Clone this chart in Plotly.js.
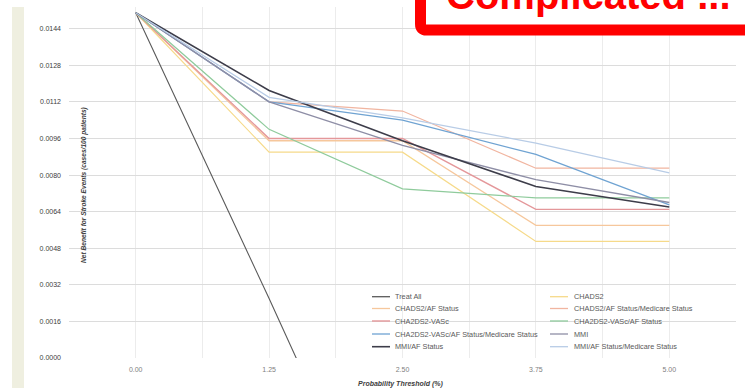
<!DOCTYPE html>
<html>
<head>
<meta charset="utf-8">
<script src="https://cdn.plot.ly/plotly-3.0.1.min.js"></script>
<style>html,body{margin:0;padding:0;background:#fff;}#chart{width:745px;height:388px;}</style>
</head>
<body>
<div id="chart"></div>
<script>
// ---- data ----
const thresholds = [0, 1.25, 2.5, 3.75, 5];
const xTickLabels = ['0.00', '1.25', '2.50', '3.75', '5.00'];
const yTickVals = [0, 0.0016, 0.0032, 0.0048, 0.0064, 0.0080, 0.0096, 0.0112, 0.0128, 0.0144];

const seriesNames = [
  'Treat All', 'CHADS2',
  'CHADS2/AF Status', 'CHADS2/AF Status/Medicare Status',
  'CHA2DS2-VASc', 'CHA2DS2-VASc/AF Status',
  'CHA2DS2-VASc/AF Status/Medicare Status', 'MMI',
  'MMI/AF Status', 'MMI/AF Status/Medicare Status'
];
const treatAll      = [0.0151, 0.0026, -0.0102, -0.0233, -0.0367];
const chads2        = [0.0151, 0.0090, 0.0090, 0.0051, 0.0051];
const chads2AF      = [0.0151, 0.0095, 0.0095, 0.0058, 0.0058];
const chads2AFMed   = [0.0151, 0.0112, 0.0108, 0.0083, 0.0083];
const cha2ds2       = [0.0151, 0.0096, 0.0096, 0.0065, 0.0065];
const cha2ds2AF     = [0.0151, 0.0100, 0.0074, 0.0070, 0.0070];
const cha2ds2AFMed  = [0.0151, 0.0112, 0.0104, 0.0089, 0.0067];
const mmi           = [0.0151, 0.0112, 0.0093, 0.0078, 0.0068];
const mmiAF         = [0.0151, 0.0117, 0.0095, 0.0075, 0.0066];
const mmiAFMed      = [0.0151, 0.0114, 0.0105, 0.0094, 0.0081];

const seriesValues = [treatAll, chads2, chads2AF, chads2AFMed, cha2ds2, cha2ds2AF, cha2ds2AFMed, mmi, mmiAF, mmiAFMed];

// ---- styles ----
const colors = ['#5a5a5a', '#f6da8a', '#f6c79c', '#f1b5a0', '#e4979a', '#8fcb9c', '#6fa3d2', '#8e8ea6', '#3d3d4a', '#b8cce6'];
const widths = [1.1, 1.2, 1.3, 1.2, 1.4, 1.2, 1.3, 1.3, 1.6, 1.3];

const W = 745, H = 388;
const M = {l: 69, r: 9, t: 7, b: 30};
const pw = W - M.l - M.r, ph = H - M.t - M.b;
const px = x => (x - M.l) / pw;
const py = y => (H - M.b - y) / ph;

const traces = seriesNames.map((n, i) => ({
  type: 'scatter', mode: 'lines', name: n,
  x: thresholds, y: seriesValues[i],
  line: {color: colors[i], width: widths[i]},
  showlegend: false, hoverinfo: 'skip'
}));

const shapes = [];
const annotations = [];

// beige strip at left
shapes.push({type: 'rect', xref: 'paper', yref: 'paper', layer: 'below',
  x0: px(12), x1: px(24), y0: py(H + 5), y1: py(7),
  fillcolor: '#efefe0', line: {width: 0}});

// manual legend
const rowsY = [296.7, 308.5, 321, 334, 346.7];
const colSampleX = [[372, 390], [550, 568]];
const colTextX = [393, 572];
seriesNames.forEach((n, i) => {
  const r = Math.floor(i / 2), c = i % 2;
  shapes.push({type: 'line', xref: 'paper', yref: 'paper', layer: 'above',
    x0: px(colSampleX[c][0]), x1: px(colSampleX[c][1]), y0: py(rowsY[r]), y1: py(rowsY[r]),
    line: {color: colors[i], width: Math.max(widths[i], 1.3)}});
  annotations.push({xref: 'paper', yref: 'paper', x: px(colTextX[c]), y: py(rowsY[r]),
    xanchor: 'left', yanchor: 'middle', showarrow: false, text: n,
    font: {family: 'Liberation Sans', size: 7.3, color: '#595959'}});
});

// axis titles
annotations.push({xref: 'paper', yref: 'paper', x: px(84), y: py(185), textangle: -90,
  xanchor: 'center', yanchor: 'middle', showarrow: false,
  text: '<b><i>Net Benefit for Stroke Events (cases/100 patients)</i></b>',
  font: {family: 'Liberation Sans', size: 6.6, color: '#404040'}});
annotations.push({xref: 'paper', yref: 'paper', x: px(400), y: py(384),
  xanchor: 'center', yanchor: 'middle', showarrow: false,
  text: '<b><i>Probability Threshold (%)</i></b>',
  font: {family: 'Liberation Sans', size: 7, color: '#404040'}});

// red callout box
const bx = px(420.5), by = py(30), rx = 6 / pw, ry = 6 / ph;
shapes.push({type: 'path', xref: 'paper', yref: 'paper', layer: 'above',
  path: `M ${bx},${py(-30)} L ${bx},${by + ry} Q ${bx},${by} ${bx + rx},${by} L ${px(790)},${by} L ${px(790)},${py(-30)} Z`,
  fillcolor: '#ffffff', line: {color: '#ff0000', width: 11}});
annotations.push({xref: 'paper', yref: 'paper', x: px(588), y: py(-5),
  xanchor: 'center', yanchor: 'middle', showarrow: false,
  text: '<b>Complicated ...</b>',
  font: {family: 'Liberation Sans', size: 40, color: '#ff0000'}});

const layout = {
  width: W, height: H,
  margin: M,
  paper_bgcolor: '#ffffff', plot_bgcolor: '#ffffff',
  font: {family: 'Liberation Sans'},
  xaxis: {
    range: [-0.625, 5.625], tickmode: 'array', tickvals: thresholds, ticktext: xTickLabels,
    showgrid: true, gridcolor: '#ececec', gridwidth: 1,
    minor: {tickmode: 'linear', tick0: 0, dtick: 0.625, showgrid: true, gridcolor: '#ececec', gridwidth: 1},
    zeroline: false, showline: false, ticks: '',
    ticklabelstandoff: 6,
    tickfont: {family: 'Liberation Sans', size: 7, color: '#808080'}
  },
  yaxis: {
    range: [0, 0.01535], tickmode: 'array', tickvals: yTickVals,
    tickformat: '.4f',
    showgrid: true, gridcolor: '#dcdcdc', gridwidth: 1,
    zeroline: false, showline: false, ticks: '',
    ticklabelstandoff: 7,
    tickfont: {family: 'Liberation Sans', size: 7, color: '#404040'}
  },
  shapes: shapes,
  annotations: annotations
};

Plotly.newPlot('chart', traces, layout, {staticPlot: true, displayModeBar: false});
</script>
</body>
</html>
